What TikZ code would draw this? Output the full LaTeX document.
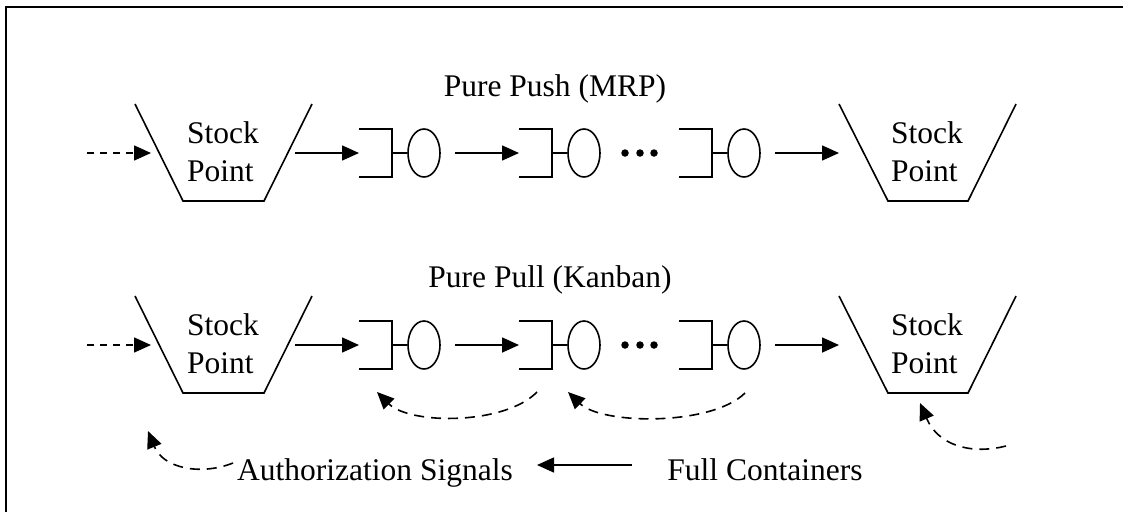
\documentclass[tikz,border=0pt]{standalone}
\usepackage{fontspec}
\setmainfont{Liberation Serif}
\usetikzlibrary{arrows.meta,shapes.geometric}

\tikzset{
  lbl/.style={font=\fontsize{31.5}{37.5}\selectfont, inner sep=0pt},
  % the base anchor of a two-line label sits on its last line
  stocklbl/.style={lbl, align=left, anchor=base west},
  shape line/.style={line width=1.6pt},
  flow/.style={line width=1.6pt, -{Triangle[length=17pt,width=15pt]}},
  flowdash/.style={flow, dash pattern=on 7pt off 6pt},
  signal/.style={flow, dash pattern=on 10pt off 7pt},
  station/.style={ellipse, draw, line width=1.6pt, minimum width=32pt, minimum height=48pt, inner sep=0pt},
  dot/.style={circle, fill, inner sep=0pt, minimum size=7.5pt},
}

\begin{document}
\begin{tikzpicture}[x=1pt,y=-1pt]
\useasboundingbox (0,0) rectangle (1123,512);

% outer frame (only top and left edges fall inside the page)
\draw[line width=2pt] (6,512) -- (6,7) -- (1123,7);

% headings of the two control schemes
\node[lbl, anchor=base] (push-title) at (555,96) {Pure Push (MRP)};
\node[lbl, anchor=base] (pull-title) at (550,287) {Pure Pull (Kanban)};

% one production line per scheme
\foreach \r/\dy in {push/0, pull/192} {
  \begin{scope}[yshift=-\dy pt]
    % incoming stock point
    \draw[shape line] (135,104) -- (183,201) -- (264,201) -- (312,104);
    \node[stocklbl] (\r-stockA) at (187,181) {Stock\\Point};
    % outgoing stock point
    \draw[shape line] (839,104) -- (888,201) -- (968,201) -- (1016,104);
    \node[stocklbl] (\r-stockB) at (891,181) {Stock\\Point};

    % workstations: bracket (queue) plus ellipse (machine)
    \foreach \k/\x in {1/359, 2/519, 3/679} {
      \coordinate (\r-q\k) at (\x,153);
      \draw[shape line] (\x,129) -- (\x+33,129) -- (\x+33,177) -- (\x,177);
      \node[station] (\r-m\k) at (\x+65,153) {};
      \draw[shape line] (\x+33,153) -- (\r-m\k.west);
    }

    % flow of material
    \coordinate (\r-src) at (87,153);
    \coordinate (\r-inA) at (151,153);
    \coordinate (\r-outA) at (295,153);
    \coordinate (\r-out1) at (455,153);
    \coordinate (\r-out3) at (775,153);
    \coordinate (\r-inB) at (839,153);
    \draw[flowdash] (\r-src) -- (\r-inA);
    \draw[flow] (\r-outA) -- (\r-q1);
    \draw[flow] (\r-out1) -- (\r-q2);
    \draw[flow] (\r-out3) -- (\r-inB);

    % further stations left out
    \node[dot] (\r-d1) at (625,153) {};
    \node[dot] (\r-d2) at (640,153) {};
    \node[dot] (\r-d3) at (654,153) {};
  \end{scope}
}

% kanban authorization signals travelling upstream
\coordinate (k1s) at (537,392);
\coordinate (k1e) at (377,392);
\coordinate (k2s) at (745,393);
\coordinate (k2e) at (568,392);
\coordinate (k3s) at (1006,446);
\coordinate (k3e) at (920,403);
\coordinate (k0s) at (233,463);
\coordinate (k0e) at (148,431);
\draw[signal] (k1s) .. controls (505,425) and (410,425) .. (k1e);
\draw[signal] (k2s) .. controls (712,426) and (602,425) .. (k2e);
\draw[signal] (k3s) .. controls (970,455) and (938,445) .. (k3e);
\draw[signal] (k0s) .. controls (200,476) and (163,468) .. (k0e);

% legend
\node[lbl, anchor=base] (auth) at (375,480) {Authorization Signals};
\node[lbl, anchor=base] (full) at (765,480) {Full Containers};
\coordinate (fullL) at (632,465);
\coordinate (authR) at (537,465);
\draw[flow] (fullL) -- (authR);
\end{tikzpicture}
\end{document}
